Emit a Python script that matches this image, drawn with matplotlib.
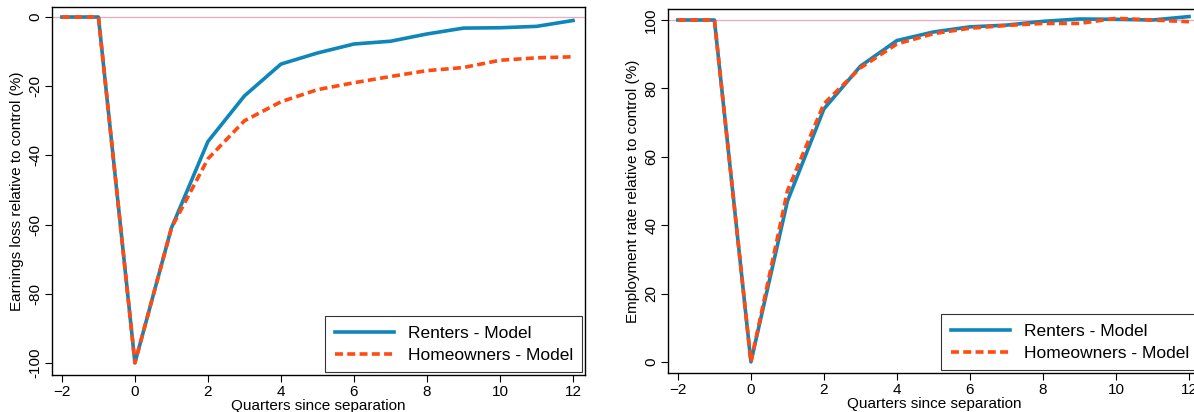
#!/usr/bin/env python3
"""Earnings loss and employment rate after separation: renters vs homeowners (model)."""
import matplotlib

matplotlib.use("Agg")
import matplotlib.pyplot as plt

quarters = [-2, -1, 0, 1, 2, 3, 4, 5, 6, 7, 8, 9, 10, 11, 12]

earn_renters = [0, 0, -100, -61, -36, -22.8, -13.6, -10.4, -7.8, -7.0, -4.9, -3.2, -3.1, -2.7, -1.0]
earn_owners = [0, 0, -100, -61, -41, -30, -24.5, -21, -19, -17.2, -15.5, -14.6, -12.5, -11.8, -11.5]

emp_renters = [100, 100, 0, 47, 74, 86.5, 94, 96.5, 98, 98.5, 99.6, 100.3, 100.2, 100, 101]
emp_owners = [100, 100, 0, 50, 75.5, 86, 93, 96, 97.6, 98.4, 99, 99, 100.5, 100, 99.5]

BLUE = "#0f86b9"
ORANGE = "#ff4a12"
REF = "#f0a8bc"

plt.rcParams["font.family"] = ["Liberation Sans", "DejaVu Sans"]
plt.rcParams["font.size"] = 11

fig = plt.figure(figsize=(11.94, 4.12), dpi=100)
ax1 = fig.add_axes([0.0436, 0.09, 0.4464, 0.893])
ax2 = fig.add_axes([0.5595, 0.095, 0.4464, 0.883])

panels = [
    (ax1, earn_renters, earn_owners, 0, "Earnings loss relative to control (%)", [-100, -80, -60, -40, -20, 0], (-103.5, 2.9)),
    (ax2, emp_renters, emp_owners, 100, "Employment rate relative to control (%)", [0, 20, 40, 60, 80, 100], (-3.2, 103.2)),
]

for ax, rent, own, ref, ylab, yt, ylim in panels:
    ax.axhline(ref, color=REF, lw=0.9, zorder=1)
    ax.plot(quarters, rent, color=BLUE, lw=2.6, label="Renters - Model", zorder=3)
    ax.plot(quarters, own, color=ORANGE, lw=2.6, ls=(0, (2.2, 1.2)), label="Homeowners - Model", zorder=4)
    ax.set_xlim(-2.27, 12.33)
    ax.set_ylim(*ylim)
    ax.set_xticks(range(-2, 13, 2))
    ax.set_yticks(yt)
    ax.set_yticklabels([str(v) for v in yt], rotation=90, va="center")
    ax.tick_params(direction="out", length=5, width=0.8, labelsize=11, pad=2)
    ax.set_xlabel("Quarters since separation", fontsize=11, labelpad=0)
    ax.set_ylabel(ylab, fontsize=11, labelpad=3)
    for s in ax.spines.values():
        s.set_linewidth(1.0)
    leg = ax.legend(loc="lower right", fontsize=12.5, frameon=True, fancybox=False,
                    edgecolor="black", handlelength=3.4, borderaxespad=0.15,
                    borderpad=0.55, labelspacing=0.4)
    leg.get_frame().set_linewidth(0.8)

fig.savefig("out.png", dpi=100)
